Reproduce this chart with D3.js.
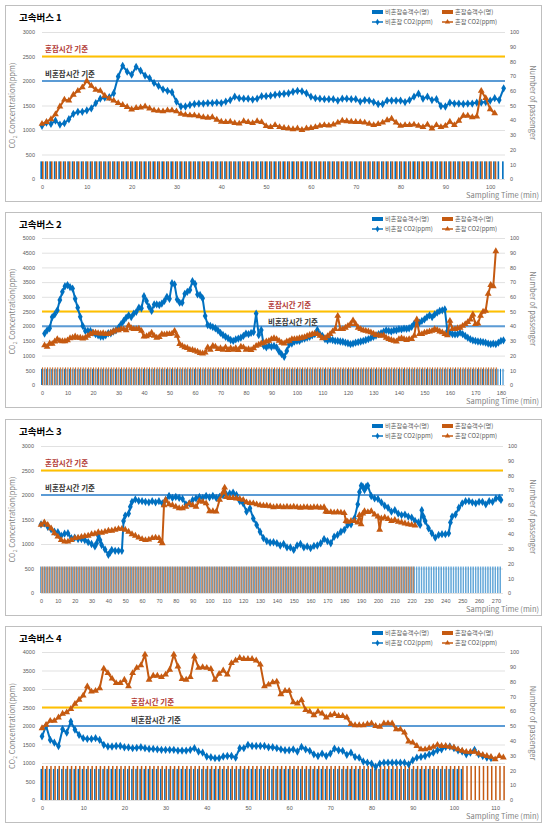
<!DOCTYPE html>
<html><head><meta charset="utf-8">
<script src="https://cdn.jsdelivr.net/npm/d3@7/dist/d3.min.js"></script>
<style>
body{margin:0;background:#fff;}
svg{display:block;font-family:"Noto Sans CJK KR","Noto Sans",sans-serif;}
</style>
</head><body>
<svg id="chart" width="550" height="827"></svg>
<script>
// ---------------- DATA ----------------
const busTitles = ["고속버스 1", "고속버스 2", "고속버스 3", "고속버스 4"];
const legendLabels = ["비혼잡승객수(명)", "혼잡승객수(명)", "비혼잡 CO2(ppm)", "혼잡 CO2(ppm)"];
const refLabels = ["혼잡시간 기준", "비혼잡시간 기준"];
const refValues = [2500, 2000];
const xAxisTitle = "Sampling Time (min)";
const rightAxisTitle = "Number of passenger";
const leftMax = [3000, 5000, 3000, 4000];
const leftTickStep = 500;
const xTickMax = [100, 180, 270, 110];
const xTickStep = 10;
const rightTicks = [0, 10, 20, 30, 40, 50, 60, 70, 80, 90, 100];

// passengers per sampling minute (constant per bus), and last minute with a bar
const passNonCong = [12, 11, 18, 21];
const passCong = [12, 12, 18, 23];
const passNonCongEnd = [103, 181, 273, 102];
const passCongEnd = [101, 178, 221, 112];

// Bus 1 (minute 0..)
const bus1NonCong = [1085,1150,1125,1190,1110,1140,1220,1330,1370,1370,
1400,1440,1550,1640,1660,1670,1750,2090,2310,2190,
2130,2290,2210,2110,2060,1960,1900,1830,1800,1770,
1580,1480,1480,1510,1530,1540,1540,1550,1550,1560,
1550,1580,1610,1680,1650,1640,1640,1620,1640,1690,
1690,1700,1720,1730,1740,1750,1780,1800,1790,1750,
1680,1650,1640,1630,1630,1630,1600,1640,1640,1630,
1630,1580,1610,1600,1570,1530,1530,1600,1600,1600,
1600,1570,1610,1680,1740,1640,1680,1610,1630,1490,
1480,1560,1540,1540,1530,1540,1540,1560,1560,1570,
1600,1650,1610,1850];
const bus1Cong = [1125,1165,1220,1320,1480,1620,1600,1720,1800,1870,
2000,1900,1820,1800,1700,1640,1600,1550,1510,1470,
1420,1450,1460,1480,1440,1400,1390,1380,1400,1400,
1380,1330,1310,1300,1300,1280,1260,1250,1260,1210,
1170,1160,1170,1140,1130,1180,1160,1140,1180,1160,
1080,1060,1100,1060,1040,1030,1015,1030,1000,1030,
1040,1060,1085,1100,1090,1110,1150,1190,1180,1170,
1165,1160,1150,1125,1100,1120,1150,1200,1230,1150,
1085,1100,1100,1110,1085,1060,1110,1030,1100,1060,
1085,1170,1100,1190,1290,1290,1260,1275,1800,1650,
1425,1340];

// Bus 2 (minute 1..)
const bus2NonCong = [1750,1860,1930,2310,2400,2540,2890,3170,3360,3400,
3330,3280,2930,2630,2320,2010,1840,1840,1840,1780,
1730,1690,1650,1650,1690,1760,1760,1820,1860,1950,
2070,2180,2290,2370,2310,2430,2490,2630,2610,3020,
2860,2660,2520,2740,2740,2720,2770,2860,3000,2930,
3460,3420,2910,2800,2800,3100,3170,3230,3530,3440,
3080,3060,2950,2350,2040,2010,1970,1930,1860,1770,
1700,1640,1590,1530,1500,1550,1580,1610,1670,1750,
1730,1770,1800,2430,1700,1870,1330,1280,1340,1300,
1330,1280,1140,1050,960,1160,1390,1410,1480,1500,
1500,1560,1580,1610,1640,1690,1730,1870,1730,1670,
1560,1520,1550,1530,1500,1500,1480,1470,1440,1420,
1390,1410,1440,1460,1480,1500,1530,1560,1600,1640,
1680,1730,1760,1810,1860,1840,1820,1860,1860,1900,
1890,1920,1910,1930,1980,2090,2090,2120,2180,2230,
2310,2370,2310,2400,2460,2520,2540,2570,1840,1780,
1730,1720,1730,1780,1730,1670,1610,1560,1520,1500,
1480,1470,1460,1440,1410,1390,1410,1390,1440,1500,
1520];
const bus2Cong = [1350,1300,1410,1400,1480,1560,1500,1490,1490,1520,
1590,1610,1650,1610,1610,1580,1610,1670,1730,1780,
1780,1760,1750,1760,1730,1730,1780,1820,1860,1860,
1900,1900,1860,2030,1930,1900,1900,1920,1840,1650,
1660,1700,1780,1670,1610,1630,1730,1710,1730,1730,
1750,1840,1670,1390,1330,1280,1260,1200,1190,1160,
1130,1090,1070,1100,1280,1200,1330,1300,1220,1250,
1200,1280,1190,1250,1200,1250,1190,1300,1280,1200,
1220,1190,1250,1330,1370,1410,1440,1480,1500,1560,
1590,1560,1500,1440,1410,1480,1500,1560,1560,1570,
1590,1610,1630,1670,1700,1730,1750,1730,1670,1590,
1600,1660,1730,1820,1900,2350,1900,1900,1950,2010,
2070,2200,2070,1950,1900,1860,1840,1820,1790,1750,
1700,1690,1670,1690,1610,1560,1530,1500,1480,1560,
1590,1560,1530,1560,1560,1670,2230,1730,1730,1780,
1800,1820,1840,1900,1870,1820,1790,1730,1690,2180,
1900,1900,1930,1950,2010,2070,2140,2230,2400,2070,
2090,2350,2490,2520,3100,3400,3360,4550];

// Bus 3 (readings with their minutes)
const bus3NonCongT = [0,2,4,6,8,10,12,14,16,18,20,22,24,26,28,30,32,33,34,35,36,38,40,41,42,44,46,48,49,50,52,53,54,56,58,60,62,64,66,68,70,72,74,76,78,80,82,84,86,88,90,92,94,96,98,100,102,104,106,108,110,112,114,116,118,120,122,124,126,128,130,132,134,136,138,140,142,144,146,148,150,152,154,156,158,160,162,164,166,168,170,172,174,176,178,180,182,184,186,188,189,190,191,192,193,194,196,198,200,202,204,206,208,210,212,214,216,218,220,222,224,225,226,227,228,230,232,234,236,238,240,242,243,244,246,248,250,252,254,256,258,260,262,264,266,268,270,272,273];
const bus3NonCong = [1400,1420,1350,1300,1250,1240,1170,1210,1220,1120,1130,1100,1100,1080,1040,1000,950,1015,1170,1080,980,890,780,825,880,860,860,860,1470,1580,1620,1760,1860,1910,1880,1875,1860,1850,1875,1850,1875,1830,1900,1980,1940,1960,1940,1920,1810,1830,1900,1930,1960,1940,1980,1950,1980,1940,1960,2000,2010,2030,2050,2000,1875,1830,1660,1730,1520,1390,1250,1120,1060,1030,1035,1015,970,1000,930,930,880,970,1000,930,950,915,960,970,1015,1100,1060,1015,1150,1185,1250,1290,1390,1400,1520,1810,2060,2190,2170,2100,2170,2190,1980,1930,1920,1850,1780,1740,1660,1690,1620,1590,1600,1560,1540,1470,1440,1390,1690,1560,1470,1320,1220,1130,1185,1200,1200,1220,1440,1560,1600,1740,1830,1875,1875,1850,1830,1860,1860,1810,1875,1860,1930,1940,1900];
const bus3CongT = [0,2,4,6,8,10,12,14,16,18,20,22,24,26,28,30,32,34,36,38,40,42,44,46,48,50,52,54,56,58,60,62,64,66,68,70,71,72,73,74,76,78,80,82,84,86,88,90,92,94,96,98,100,102,104,106,108,109,110,112,114,116,118,120,122,124,126,128,130,132,134,136,138,140,142,144,146,148,150,152,154,156,158,160,162,164,166,168,169,170,172,174,176,178,180,181,182,184,186,188,189,190,191,192,194,196,198,200,201,202,204,206,208,210,212,214,216,218,220,222];
const bus3Cong = [1390,1440,1390,1320,1220,1150,1080,1050,1050,1080,1120,1130,1145,1160,1170,1200,1210,1240,1230,1250,1270,1270,1290,1310,1310,1290,1250,1200,1170,1130,1100,1080,1090,1120,1130,1120,1060,1015,1790,1900,1810,1790,1760,1730,1730,1760,1830,1790,1760,1880,1860,1830,1670,1670,1660,1900,2050,2150,1960,1940,1940,1930,1920,1900,1850,1835,1830,1810,1790,1780,1780,1770,1750,1760,1760,1750,1760,1750,1760,1750,1740,1750,1750,1740,1750,1750,1740,1750,1660,1650,1650,1640,1650,1640,1630,1470,1455,1470,1470,1440,1590,1400,1620,1670,1650,1670,1600,1560,1290,1520,1540,1510,1470,1490,1455,1440,1420,1400,1390,1375];

// Bus 4 (minute 0..)
const bus4NonCong = [1720,2000,1625,1550,1460,1915,1820,2120,1900,1760,
1670,1650,1650,1670,1625,1490,1445,1445,1460,1460,
1425,1420,1400,1410,1425,1400,1380,1380,1370,1355,
1355,1355,1355,1335,1335,1335,1355,1400,1310,1280,
1175,1155,1130,1130,1175,1190,1190,1145,1400,1400,
1490,1460,1460,1460,1460,1425,1425,1400,1370,1345,
1345,1370,1310,1435,1370,1330,1235,1190,1255,1190,
1255,1390,1345,1330,1220,1280,1165,1145,1040,1010,
985,900,985,1010,1010,1010,1010,1010,1010,965,
1075,1145,1165,1190,1235,1280,1345,1370,1435,1445,
1400,1345,1310,1235,1280,1355,1235,1190,1145,1130];
const bus4Cong = [1940,2030,2140,2140,2230,2330,2370,2460,2600,2710,
2820,3070,2930,2950,3020,3550,3430,3280,3160,3160,
3250,3070,3430,3570,3640,3930,3250,3360,3360,3320,
3390,3520,3930,3610,3270,3250,3320,3880,3570,3590,
3570,3540,3250,3410,3500,3390,3700,3770,3840,3810,
3810,3810,3770,3660,3070,3120,3180,3200,2860,2950,
2950,2640,2610,2700,2430,2390,2290,2390,2340,2230,
2290,2320,2270,2270,2230,2050,2020,2020,2020,2050,
2070,2000,1980,2070,2070,2070,1910,1910,1820,1580,
1550,1460,1370,1370,1400,1435,1490,1460,1460,1435,
1420,1370,1330,1300,1300,1300,1255,1220,1190,1165,
1100,1190,1150];

// ---------------- LAYOUT ----------------
const C_BLUE = "#0070C0", C_ORANGE = "#C55A11", C_REFBLUE = "#5B9BD5", C_YELLOW = "#FFC000";
const C_GRID = "#D9D9D9", C_TXT = "#595959";

const seq = (arr, start) => arr.map((v, i) => [start + i, v]);
const zipT = (ts, vs) => ts.map((t, i) => [t, vs[i]]);

const panels = [
  {frame:[5,5,541,201], l:42, r:505, t:32, b:179, xMax:103.3, bar:0.36,
   blue: seq(bus1NonCong,0), orange: seq(bus1Cong,0), lab:[45,52,45,77]},
  {frame:[5,212,541,407], l:42, r:505, t:238, b:385, xMax:181.6, bar:0.36,
   blue: seq(bus2NonCong,1), orange: seq(bus2Cong,1), lab:[268,308,268,325]},
  {frame:[5,419,541,615], l:41, r:503, t:446, b:593, xMax:274.2, bar:0.36,
   blue: zipT(bus3NonCongT,bus3NonCong), orange: zipT(bus3CongT,bus3Cong), lab:[45,466,45,491]},
  {frame:[5,626,541,822], l:42, r:505, t:652, b:800, xMax:112.4, bar:0.36,
   blue: seq(bus4NonCong,0), orange: seq(bus4Cong,0), lab:[131,705,131,723]}
];

const svg = d3.select("#chart");

panels.forEach((p, k) => {
  const g = svg.append("g");
  const [fx0, fy0, fx1, fy1] = p.frame;
  g.append("rect").attr("x", fx0 + 0.5).attr("y", fy0 + 0.5)
    .attr("width", fx1 - fx0).attr("height", fy1 - fy0)
    .attr("fill", "#fff").attr("stroke", "#BFBFBF").attr("stroke-width", 1);

  const x = d3.scaleLinear().domain([0, p.xMax]).range([p.l, p.r]);
  const y = d3.scaleLinear().domain([0, leftMax[k]]).range([p.b, p.t]);
  const yR = d3.scaleLinear().domain([0, 100]).range([p.b, p.t]);

  // gridlines + left axis
  const yTicks = d3.range(0, leftMax[k] + 1, leftTickStep);
  const axL = g.append("g").attr("transform", `translate(${p.l},0)`)
    .call(d3.axisLeft(y).tickValues(yTicks).tickSize(-(p.r - p.l)).tickPadding(7).tickFormat(d3.format("d")));
  axL.select(".domain").remove();
  axL.selectAll("line").attr("stroke", C_GRID).attr("stroke-width", 0.8);
  axL.selectAll("text").attr("fill", C_TXT).style("font-size", "5.5px").style("font-family", "Liberation Sans, sans-serif");

  // right axis
  const axR = g.append("g").attr("transform", `translate(${p.r},0)`)
    .call(d3.axisRight(yR).tickValues(rightTicks).tickSize(0).tickPadding(5));
  axR.select(".domain").remove();
  axR.selectAll("text").attr("fill", C_TXT).style("font-size", "5.5px").style("font-family", "Liberation Sans, sans-serif");

  // bottom axis
  const xTicks = d3.range(0, xTickMax[k] + 1, xTickStep);
  const axB = g.append("g").attr("transform", `translate(0,${p.b})`)
    .call(d3.axisBottom(x).tickValues(xTicks).tickSize(0).tickPadding(6));
  axB.select(".domain").remove();
  axB.selectAll("text").attr("fill", C_TXT).style("font-size", "5.5px").style("font-family", "Liberation Sans, sans-serif");

  // bars
  const step = x(1) - x(0);
  const w = step * p.bar;
  const bT = d3.range(0, passNonCongEnd[k] + 1);
  const oT = d3.range(0, passCongEnd[k] + 1);
  g.append("g").selectAll("rect").data(bT).join("rect")
    .attr("x", t => x(t) - w).attr("width", w)
    .attr("y", yR(passNonCong[k])).attr("height", p.b - yR(passNonCong[k]))
    .attr("fill", C_BLUE);
  g.append("g").selectAll("rect").data(oT).join("rect")
    .attr("x", t => x(t)).attr("width", w)
    .attr("y", yR(passCong[k])).attr("height", p.b - yR(passCong[k]))
    .attr("fill", C_ORANGE);

  // reference lines
  g.append("line").attr("x1", p.l).attr("x2", p.r).attr("y1", y(refValues[0])).attr("y2", y(refValues[0]))
    .attr("stroke", C_YELLOW).attr("stroke-width", 2.2);
  g.append("line").attr("x1", p.l).attr("x2", p.r).attr("y1", y(refValues[1])).attr("y2", y(refValues[1]))
    .attr("stroke", C_REFBLUE).attr("stroke-width", 2);
  g.append("text").attr("x", p.lab[0]).attr("y", p.lab[1]).text(refLabels[0])
    .attr("fill", "#B23A36").style("font-size", "7.5px").style("font-weight", "bold");
  g.append("text").attr("x", p.lab[2]).attr("y", p.lab[3]).text(refLabels[1])
    .attr("fill", "#333").style("font-size", "7.5px").style("font-weight", "bold");

  // lines
  const line = d3.line().x(d => x(d[0])).y(d => y(d[1]));
  g.append("path").datum(p.blue).attr("d", line).attr("fill", "none")
    .attr("stroke", C_BLUE).attr("stroke-width", 2).attr("stroke-linejoin", "round");
  g.append("g").selectAll("path").data(p.blue).join("path")
    .attr("transform", d => `translate(${x(d[0])},${y(d[1])})`)
    .attr("d", d3.symbol().type(d3.symbolDiamond).size(20)).attr("fill", C_BLUE);
  g.append("path").datum(p.orange).attr("d", line).attr("fill", "none")
    .attr("stroke", C_ORANGE).attr("stroke-width", 2).attr("stroke-linejoin", "round");
  g.append("g").selectAll("path").data(p.orange).join("path")
    .attr("transform", d => `translate(${x(d[0])},${y(d[1])})`)
    .attr("d", d3.symbol().type(d3.symbolTriangle).size(20)).attr("fill", C_ORANGE);

  // title
  g.append("text").attr("x", 19).attr("y", fy0 + 16).text(busTitles[k])
    .attr("fill", "#000").style("font-size", "9.5px").style("font-weight", "bold");

  // legend
  const ly1 = fy0 + 7, ly2 = fy0 + 17;
  const lg = g.append("g").style("font-size", "6.2px").attr("fill", C_TXT);
  lg.append("rect").attr("x", 372).attr("y", ly1 - 2).attr("width", 11).attr("height", 4).attr("fill", C_BLUE);
  lg.append("text").attr("x", 385).attr("y", ly1 + 2.2).text(legendLabels[0]);
  lg.append("rect").attr("x", 442).attr("y", ly1 - 2).attr("width", 11).attr("height", 4).attr("fill", C_ORANGE);
  lg.append("text").attr("x", 455).attr("y", ly1 + 2.2).text(legendLabels[1]);
  lg.append("line").attr("x1", 372).attr("x2", 383).attr("y1", ly2).attr("y2", ly2).attr("stroke", C_BLUE).attr("stroke-width", 1.5);
  lg.append("path").attr("transform", `translate(377.5,${ly2})`).attr("d", d3.symbol().type(d3.symbolDiamond).size(12)).attr("fill", C_BLUE);
  lg.append("text").attr("x", 385).attr("y", ly2 + 2.2).text(legendLabels[2]);
  lg.append("line").attr("x1", 442).attr("x2", 453).attr("y1", ly2).attr("y2", ly2).attr("stroke", C_ORANGE).attr("stroke-width", 1.5);
  lg.append("path").attr("transform", `translate(447.5,${ly2})`).attr("d", d3.symbol().type(d3.symbolTriangle).size(12)).attr("fill", C_ORANGE);
  lg.append("text").attr("x", 455).attr("y", ly2 + 2.2).text(legendLabels[3]);

  // axis titles
  const cy = (p.t + p.b) / 2;
  const lt = g.append("text").attr("transform", `translate(15,${cy}) rotate(-90)`)
    .attr("text-anchor", "middle").attr("fill", "#7F7F7F").style("font-size", "7.5px");
  lt.append("tspan").text("CO");
  lt.append("tspan").text("2").style("font-size", "5px").attr("dy", 2);
  lt.append("tspan").text(" Concentration(ppm)").attr("dy", -2);
  g.append("text").attr("transform", `translate(530,${cy - 3}) rotate(90)`)
    .attr("text-anchor", "middle").attr("fill", "#7F7F7F").style("font-size", "7.5px").text(rightAxisTitle);
  g.append("text").attr("x", 539).attr("y", fy1 - 3).attr("text-anchor", "end")
    .attr("fill", "#7F7F7F").style("font-size", "7.5px").text(xAxisTitle);
});
</script>
</body></html>
